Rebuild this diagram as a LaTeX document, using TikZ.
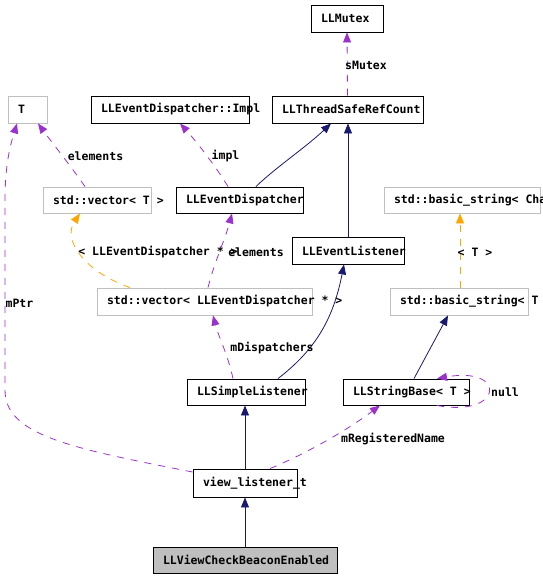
\documentclass[tikz,border=0pt]{standalone}
\usepackage{fontspec}
\setmonofont{DejaVu Sans Mono}
\usetikzlibrary{arrows.meta,calc}
\definecolor{dpurple}{HTML}{9A32CD}
\definecolor{dnavy}{HTML}{191970}
\definecolor{dorange}{HTML}{FFA500}
\definecolor{dgray}{HTML}{BFBFBF}
\newcommand{\lbx}[2]{\makebox[\dimexpr#1pt-20pt\relax][l]{#2}}
\tikzset{
  dfont/.style={font=\ttfamily\bfseries\fontsize{11.5}{12}\selectfont},
  box/.style={dfont, draw=black, line width=0.9pt, inner ysep=0pt, inner xsep=10pt, minimum height=26pt},
  gbox/.style={box, draw=dgray},
  lbl/.style={dfont, inner sep=0pt},
  tipend/.style={-{Triangle[length=10pt,width=8pt]}},
  mem/.style={tipend, draw=dpurple, fill=none, line width=0.8pt, dash pattern=on 7pt off 7pt},
  inh/.style={tipend, draw=dnavy, line width=0.8pt},
  tpl/.style={tipend, draw=dorange, line width=0.8pt, dash pattern=on 7pt off 7pt},
}
\begin{document}
\begin{tikzpicture}[x=1pt,y=-1pt]
\useasboundingbox (0,0) rectangle (543,578);
% nodes
\node[box, minimum height=27pt] (mutex) at (347,18.5) {\lbx{72}{LLMutex}};
\node[gbox, minimum height=27pt] (T) at (27.5,109.5) {\lbx{39}{T}};
\node[box, minimum height=27pt] (impl) at (170,109.5) {\lbx{158}{LLEventDispatcher::Impl}};
\node[box, minimum height=27pt] (tsrc) at (347.5,109.5) {\lbx{151}{LLThreadSafeRefCount}};
\node[gbox] (vecT) at (97,200) {\lbx{108}{std::vector< T >}};
\node[box] (disp) at (239.5,200) {\lbx{127}{LLEventDispatcher}};
\node[gbox] (bsChar) at (462,200) {\lbx{156}{std::basic\_string< Cha}};
\node[box, minimum height=27pt] (listener) at (348,250.5) {\lbx{112}{LLEventListener}};
\node[gbox, minimum height=27pt] (vecD) at (204.5,301.5) {\lbx{215}{std::vector< LLEventDispatcher * >}};
\node[gbox, minimum height=27pt] (bsT) at (459,301.5) {\lbx{138}{std::basic\_string< T}};
\node[box] (simple) at (246,392) {\lbx{118}{LLSimpleListener}};
\node[box] (strbase) at (406,392) {\lbx{126}{LLStringBase< T >}};
\node[box, minimum height=28pt] (vlt) at (245,483) {\lbx{104}{view\_listener\_t}};
\node[box, fill=dgray] (beacon) at (245,560) {\lbx{184}{LLViewCheckBeaconEnabled}};
% edges
\draw[mem] (tsrc.north) -- (mutex.south);
\draw[mem] ($(vecT.north)+(-12,0)$) .. controls (70,165) and (50,140) .. ($(T.south)+(10.5,0)$);
\draw[mem] ($(disp.north)+(-11.5,0)$) .. controls (215,165) and (195,140) .. ($(impl.south)+(10,0)$);
\draw[inh] ($(disp.north)+(16.5,0)$) .. controls (275,168) and (305,148) .. ($(tsrc.south)+(-16.5,0)$);
\draw[inh] (listener.north) -- (listener.north |- tsrc.south);
\draw[tpl] ($(vecD.north)+(-74.5,0)$) .. controls (85,272) and (62,240) .. ($(vecT.south)+(-17,0)$);
\draw[mem] ($(vecD.north)+(3.5,0)$) .. controls (215,260) and (225,240) .. ($(disp.south)+(-7.5,0)$);
\draw[mem] ($(simple.north)+(-13,0)$) .. controls (228,355) and (218,335) .. ($(vecD.south)+(8.5,0)$);
\draw[inh] ($(simple.north)+(32,0)$) .. controls (315,350) and (333,320) .. ($(listener.south)+(-4,0)$);
\draw[inh] ($(strbase.north)+(8,0)$) -- ($(bsT.south)+(-11,0)$);
\draw[tpl] ($(bsT.north)+(1,0)$) -- ($(bsChar.south)+(-2,0)$);
\draw[mem] ($(strbase.south)+(31,0)$) .. controls (503,418) and (508,366) .. ($(strbase.north)+(31,0)$);
\draw[mem] ($(vlt.north)+(25,0)$) .. controls (310,452) and (350,428) .. ($(strbase.south)+(-26,0)$);
\draw[mem] ($(vlt.west)+(0,-11)$) .. controls (70,448) and (5,435) .. (5,390) -- (5,200) .. controls (5,160) and (12,140) .. ($(T.south)+(-10.5,0)$);
\draw[inh] (vlt.north) -- (vlt.north |- simple.south);
\draw[inh] (beacon.north) -- (vlt.south);
% labels
\node[lbl] (lsMutex) at (366,65) {sMutex};
\node[lbl] (lelem1) at (95.5,156) {elements};
\node[lbl] (limpl) at (225.5,156) {impl};
\node[lbl] (ltplD) at (158,252) {< LLEventDispatcher * >};
\node[lbl] (lelem2) at (256,252) {elements};
\node[lbl] (ltplT) at (475,252) {< T >};
\node[lbl] (lmDisp) at (272,348) {mDispatchers};
\node[lbl] (lnull) at (505,392) {null};
\node[lbl] (lmReg) at (393,439) {mRegisteredName};
\node[lbl] (lmPtr) at (19.5,303) {mPtr};
\end{tikzpicture}
\end{document}
